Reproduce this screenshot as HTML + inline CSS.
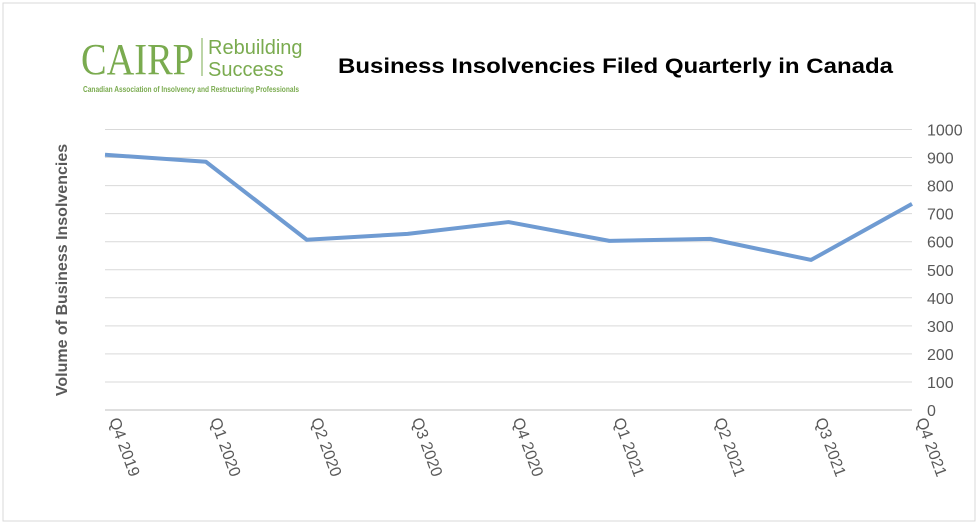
<!DOCTYPE html>
<html><head><meta charset="utf-8"><style>
body{margin:0;background:#fff;}
svg{display:block;font-family:"Liberation Sans",Arial,sans-serif;}
</style></head><body>
<svg width="980" height="525" viewBox="0 0 980 525">
<rect x="3" y="3" width="972" height="518" fill="#fff" stroke="#d9d9d9"/>
<g>
<text x="81" y="74" font-family="Liberation Serif,serif" font-size="44" fill="#7aab4f" textLength="113" lengthAdjust="spacingAndGlyphs">CAIRP</text>
<line x1="202" y1="38" x2="202" y2="76" stroke="#7aab4f" stroke-width="1"/>
<text x="208" y="54" font-size="20" fill="#7aab4f">Rebuilding</text>
<text x="208" y="76" font-size="20" fill="#7aab4f">Success</text>
<text x="83" y="92" font-size="8" font-weight="bold" fill="#7aab4f" textLength="216" lengthAdjust="spacingAndGlyphs">Canadian Association of Insolvency and Restructuring Professionals</text>
</g>
<text x="338" y="73" font-size="21" font-weight="bold" fill="#000" textLength="555" lengthAdjust="spacingAndGlyphs">Business Insolvencies Filed Quarterly in Canada</text>
<text transform="translate(67,270) rotate(-90)" text-anchor="middle" font-size="16" font-weight="bold" fill="#595959">Volume of Business Insolvencies</text>
<g id="grid"></g><g id="yticks"></g><g id="xticks"></g>
<polyline id="line" fill="none" stroke="#6f9bd2" stroke-width="4" stroke-linejoin="round"/>
</svg>
<script>
const categories=["Q4 2019","Q1 2020","Q2 2020","Q3 2020","Q4 2020","Q1 2021","Q2 2021","Q3 2021","Q4 2021"];
const values=[910,885,607,628,670,603,610,535,735];
const yTicks=[0,100,200,300,400,500,600,700,800,900,1000];
const NS="http://www.w3.org/2000/svg";
const x0=105,x1=912,y0=410,y1=129.5;
const xs=i=>x0+i*(x1-x0)/(categories.length-1);
const ys=v=>y0-(v/1000)*(y0-y1);
const grid=document.getElementById('grid'),yt=document.getElementById('yticks'),xt=document.getElementById('xticks');
yTicks.forEach(t=>{
 const l=document.createElementNS(NS,'line');
 l.setAttribute('x1',x0);l.setAttribute('x2',x1);l.setAttribute('y1',ys(t));l.setAttribute('y2',ys(t));
 l.setAttribute('stroke',t===0?'#bfbfbf':'#d9d9d9');l.setAttribute('stroke-width','1');
 
 
 grid.appendChild(l);
 const tx=document.createElementNS(NS,'text');
 tx.setAttribute('x',927);tx.setAttribute('y',ys(t)+6);tx.setAttribute('font-size','16');tx.setAttribute('fill','#595959');
 tx.textContent=t;
 
 
 yt.appendChild(tx);
});
categories.forEach((c,i)=>{
 const tx=document.createElementNS(NS,'text');
 const x=xs(i)+4,y=420;
 tx.setAttribute('transform',`translate(${x},${y}) rotate(70)`);
 tx.setAttribute('font-size','16');tx.setAttribute('fill','#595959');
 tx.textContent=c;
 
 
 xt.appendChild(tx);
});
document.getElementById('line').setAttribute('points',values.map((v,i)=>xs(i)+','+ys(v)).join(' '));
</script>
</body></html>
